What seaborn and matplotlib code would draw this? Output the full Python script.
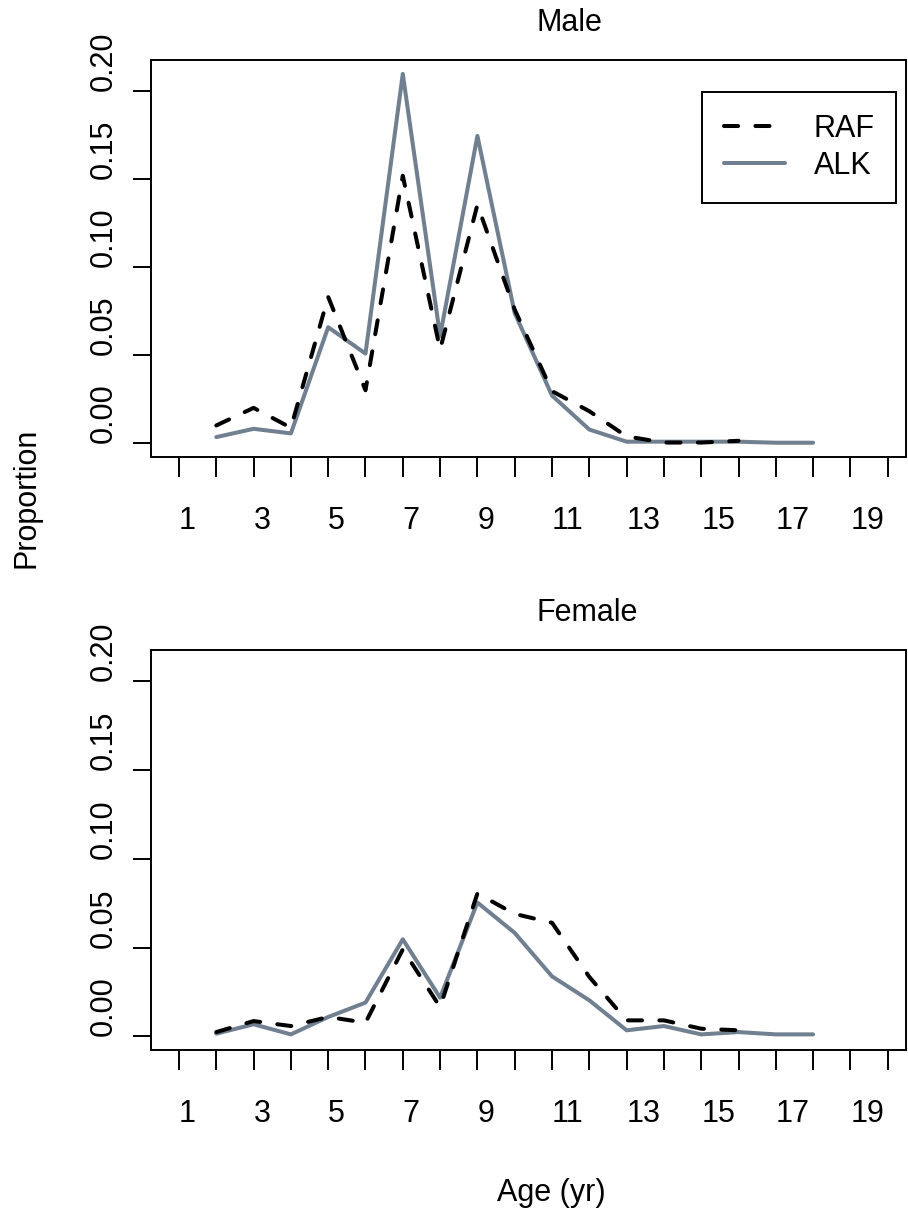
import pandas as pd
import matplotlib.pyplot as plt
import seaborn as sns
from matplotlib.lines import Line2D


# =========================
# Data
# =========================
ages_alk = list(range(2, 19))
ages_raf = list(range(2, 17))

male_alk = [0.0036, 0.0083, 0.0057, 0.0660, 0.0510, 0.2098, 0.0610, 0.1746, 0.0740,
            0.0272, 0.0079, 0.0010, 0.0010, 0.0010, 0.0010, 0.0004, 0.0004]
male_raf = [0.0102, 0.0202, 0.0089, 0.0832, 0.0302, 0.1520, 0.0533, 0.1355, 0.0760,
            0.0297, 0.0183, 0.0040, 0.0005, 0.0005, 0.0015]

female_alk = [0.0015, 0.0068, 0.0011, 0.0109, 0.0190, 0.0547, 0.0218, 0.0754, 0.0583,
              0.0338, 0.0203, 0.0034, 0.0058, 0.0011, 0.0024, 0.0011, 0.0011]
female_raf = [0.0024, 0.0086, 0.0058, 0.0109, 0.0077, 0.0490, 0.0165, 0.0805, 0.0690,
              0.0640, 0.0335, 0.0090, 0.0090, 0.0043, 0.0034]

tick_ages = list(range(1, 21))
tick_labels = [str(a) if a % 2 else '' for a in tick_ages]
y_ticks = [0.00, 0.05, 0.10, 0.15, 0.20]
y_labels = ['0.00', '0.05', '0.10', '0.15', '0.20']

ALK_COLOR = '#708090'
RAF_DASH = (0, (3.5, 4.3))
LW = 2.9
FS = 22

sns.set_style('ticks')
plt.rcParams['font.family'] = ['Liberation Sans', 'DejaVu Sans']
plt.rcParams['text.color'] = 'black'
plt.rcParams['axes.labelcolor'] = 'black'
plt.rcParams['xtick.color'] = 'black'
plt.rcParams['ytick.color'] = 'black'


def draw_panel(ax, alk, raf, title, show_legend=False):
    df_alk = pd.DataFrame({'age': ages_alk, 'prop': alk})
    df_raf = pd.DataFrame({'age': ages_raf, 'prop': raf})
    sns.lineplot(data=df_alk, x='age', y='prop', color=ALK_COLOR, linewidth=LW,
                 solid_capstyle='round', solid_joinstyle='round', ax=ax)
    sns.lineplot(data=df_raf, x='age', y='prop', color='black', linewidth=LW,
                 linestyle=RAF_DASH, dash_capstyle='round', dash_joinstyle='round', ax=ax)

    ax.set_xlim(0.25, 20.49)
    ax.set_ylim(-0.0077, 0.2177)
    ax.set_xlabel('')
    ax.set_ylabel('')

    ax.set_xticks(tick_ages)
    ax.set_xticklabels(tick_labels, ha='left', fontsize=FS)
    ax.set_yticks(y_ticks)
    ax.set_yticklabels(y_labels, rotation=90, va='bottom', fontsize=FS)
    ax.tick_params(axis='x', length=14.4, width=1.4, pad=21, colors='black')
    ax.tick_params(axis='y', length=13, width=1.4, pad=10, colors='black')

    for s in ax.spines.values():
        s.set_visible(True)
        s.set_linewidth(1.4)
        s.set_color('black')

    ax.text(0.51, 1.0 + 37 / 397, title, transform=ax.transAxes, ha='left',
            va='center', fontsize=FS)

    if show_legend:
        handles = [
            Line2D([], [], color='black', linewidth=LW, linestyle=RAF_DASH, dash_capstyle='round'),
            Line2D([], [], color=ALK_COLOR, linewidth=LW, solid_capstyle='round'),
        ]
        leg = ax.legend(handles, ['RAF', 'ALK'], loc='upper right',
                        bbox_to_anchor=(0.987, 0.919), fontsize=FS, fancybox=False,
                        edgecolor='black', framealpha=1, borderpad=0.7,
                        labelspacing=0.25, handlelength=2.0, handletextpad=0.95,
                        borderaxespad=0)
        leg.get_frame().set_linewidth(1.4)


fig = plt.figure(figsize=(9.08, 12.13), dpi=100)
W, H = 908, 1213
left = 151 / W
width = (906 - 151) / W
ax_top = fig.add_axes([left, 1 - 457 / H, width, 397 / H])
ax_bot = fig.add_axes([left, 1 - 1050 / H, width, 400 / H])

draw_panel(ax_top, male_alk, male_raf, 'Male', show_legend=True)
draw_panel(ax_bot, female_alk, female_raf, 'Female')

fig.text(27 / W, 1 - 498 / H, 'Proportion', rotation=90, ha='center', va='center', fontsize=FS)
fig.text(551 / W, 1 - 1193 / H, 'Age (yr)', ha='center', va='center', fontsize=FS)

fig.savefig('out.png', dpi=100, facecolor='white')
